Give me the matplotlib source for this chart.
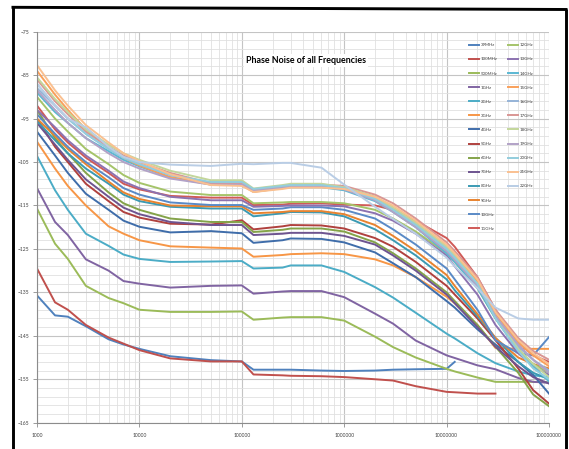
import numpy as np
import matplotlib
matplotlib.use("Agg")
import matplotlib.pyplot as plt
from matplotlib.lines import Line2D
from matplotlib.ticker import FixedLocator, FixedFormatter, NullFormatter

nan = np.nan
freq = [1e3, 1.5e3, 2e3, 3e3, 5e3, 7e3, 1e4, 2e4, 5e4, 1e5, 1.3e5, 2.5e5, 3e5,
        6e5, 1e6, 2e6, 3e6, 5e6, 1e7, 1.2e7, 2e7, 3e7, 5e7, 7e7, 1e8]

labels = ["39MHz", "100MHz", "500MHz", "1GHz", "2GHz", "3GHz", "4GHz", "5GHz", "6GHz",
          "7GHz", "8GHz", "9GHz", "10GHz", "11GHz", "12GHz", "13GHz", "14GHz", "15GHz",
          "16GHz", "17GHz", "18GHz", "19GHz", "20GHz", "21GHz", "22GHz"]

colors = ["#4F81BD", "#C0504D", "#9BBB59", "#8064A2", "#4BACC6", "#F79646",
          "#3F6DAA", "#B0413E", "#84A349", "#6E5490", "#3B9AB3", "#E8832F",
          "#5A8AC6", "#D05A57", "#A5C46A", "#8C72B0", "#5BB8D3", "#F9A05A",
          "#95B3D7", "#D99694", "#C3D69B", "#B2A2C7", "#93CDDD", "#FAC090", "#B9CDE5"]

pn_39M = [-135.7, -140.3, -140.6, -142.8, -145.8, -147.0, -148.0, -149.7, -150.6, -150.9, -152.8, -152.8, -152.8,
          -153.0, -153.1, -153.0, -152.8, -152.7, -152.6, -151.0, nan, nan, nan, nan, nan]
pn_100M = [-129.5, -137.3, -139.0, -142.5, -145.4, -146.8, -148.3, -150.2, -150.9, -150.9, -153.9, -154.1, -154.2,
           -154.3, -154.5, -155.0, -155.3, -156.6, -157.9, -158.0, -158.3, -158.3, nan, nan, nan]
pn_500M = [-115.7, -123.8, -127.3, -133.5, -136.3, -137.5, -139.0, -139.5, -139.5, -139.4, -141.3, -140.8, -140.7,
           -140.7, -141.5, -145.2, -147.6, -150.0, -152.6, -153.2, -154.6, -155.6, -155.6, -155.6, -155.7]
pn_1G = [-111.0, -118.8, -121.8, -127.4, -130.0, -132.4, -133.0, -133.9, -133.5, -133.4, -135.3, -134.8, -134.7,
         -134.7, -136.1, -139.9, -142.2, -146.1, -149.5, -150.1, -151.8, -152.7, -154.7, -155.6, -155.8]
pn_2G = [-103.6, -111.5, -116.0, -121.5, -124.3, -126.3, -127.3, -128.0, -127.9, -127.8, -129.5, -129.3, -128.8,
         -128.8, -130.3, -133.8, -136.2, -139.7, -144.5, -145.6, -149.0, -151.3, -153.2, -154.1, -154.5]
pn_3G = [-100.3, -106.5, -110.5, -115.0, -119.8, -121.5, -123.0, -124.4, -124.7, -124.9, -126.8, -126.4, -126.2,
         -126.0, -126.2, -127.4, -128.8, -131.5, -136.0, -137.5, -142.5, -147.8, -148.0, -148.0, -148.0]
pn_4G = [-98.0, -103.5, -107.5, -112.3, -116.0, -118.5, -119.9, -121.2, -120.9, -121.4, -123.6, -123.0, -122.6,
         -122.7, -123.5, -125.8, -128.3, -131.5, -137.0, -138.5, -143.5, -147.0, -151.0, -154.0, -158.3]
pn_5G = [-95.0, -101.5, -105.0, -110.0, -114.0, -116.5, -117.8, -119.2, -119.4, -118.4, -120.5, -119.8, -119.5,
         -119.6, -120.3, -122.5, -124.5, -128.0, -133.5, -135.5, -141.0, -146.0, -152.5, -157.5, -160.6]
pn_6G = [-93.0, -99.5, -103.0, -107.5, -112.0, -114.5, -116.0, -118.0, -118.8, -118.8, -121.1, -120.6, -120.3,
         -120.3, -121.0, -123.5, -126.0, -129.5, -135.0, -137.0, -142.5, -147.5, -153.5, -158.5, -161.2]
pn_7G = [-96.0, -101.0, -104.5, -109.0, -113.0, -115.5, -117.0, -118.8, -119.5, -119.5, -121.8, -121.5, -121.3,
         -121.3, -122.0, -124.0, -126.5, -130.0, -135.5, -137.5, -143.0, -147.5, -152.0, -154.5, -156.0]
pn_8G = [-95.5, -100.0, -103.0, -106.5, -110.0, -112.5, -114.0, -115.3, -115.7, -115.7, -117.5, -116.8, -116.5,
         -116.6, -117.5, -120.5, -123.0, -126.5, -132.0, -134.5, -140.5, -145.5, -151.0, -153.5, -155.0]
pn_9G = [-95.0, -99.0, -102.0, -105.5, -109.5, -112.0, -113.5, -115.0, -115.2, -115.2, -116.8, -116.5, -116.3,
         -116.3, -117.0, -119.5, -122.0, -125.5, -131.0, -133.5, -140.0, -145.5, -150.0, -151.5, -152.5]
pn_10G = [-94.0, -98.5, -101.5, -105.0, -108.5, -111.0, -112.5, -114.3, -114.9, -114.9, -116.0, -115.7, -115.4,
          -115.4, -116.0, -118.0, -120.5, -124.0, -129.5, -132.0, -139.0, -146.0, -149.0, -149.5, -145.3]
pn_11G = [-92.0, -97.5, -100.5, -104.0, -107.5, -110.0, -111.3, -112.8, -113.2, -113.2, -114.9, -114.8, -114.6,
          -114.5, -114.8, -115.0, -116.0, -118.5, -122.5, -124.5, -131.5, -139.0, -146.5, -149.5, -151.0]
pn_12G = [-90.0, -95.0, -98.0, -102.0, -105.5, -108.0, -109.8, -111.8, -112.6, -112.6, -114.5, -114.3, -114.2,
          -114.2, -114.5, -116.0, -118.0, -121.0, -126.0, -128.0, -134.0, -141.0, -148.0, -151.5, -153.5]
pn_13G = [-93.0, -97.0, -100.0, -103.5, -107.0, -109.5, -111.0, -113.0, -113.8, -113.8, -115.3, -115.1, -115.0,
          -115.0, -115.2, -116.8, -118.5, -121.5, -126.5, -129.0, -135.5, -142.5, -149.0, -152.0, -154.0]
pn_14G = [-89.0, -93.5, -96.0, -99.5, -102.5, -104.5, -106.0, -108.5, -110.0, -110.0, -111.8, -111.0, -110.8,
          -110.8, -111.5, -114.0, -116.5, -120.0, -126.0, -128.0, -134.0, -141.0, -148.5, -152.0, -155.5]
pn_15G = [-84.0, -89.5, -93.0, -97.5, -101.5, -104.0, -105.8, -108.5, -110.2, -110.3, -111.9, -111.0, -110.6,
          -110.6, -111.0, -113.0, -115.5, -119.0, -124.5, -126.5, -132.5, -140.0, -146.5, -149.5, -152.0]
pn_16G = [-88.0, -92.0, -95.0, -98.5, -102.0, -104.0, -105.5, -108.0, -109.8, -109.8, -111.5, -110.8, -110.5,
          -110.5, -111.0, -113.5, -116.0, -119.5, -125.0, -127.0, -133.0, -140.5, -147.5, -150.5, -153.0]
pn_17G = [-86.0, -91.0, -94.0, -98.0, -101.5, -103.5, -105.0, -107.5, -109.9, -109.9, -111.3, -110.5, -110.2,
          -110.2, -110.5, -112.5, -114.5, -118.0, -123.5, -125.5, -131.5, -139.0, -145.5, -148.5, -150.5]
pn_18G = [-85.5, -90.5, -93.5, -97.5, -101.0, -103.0, -104.5, -107.0, -109.2, -109.2, -111.1, -110.3, -110.0,
          -110.0, -110.8, -113.0, -115.5, -119.0, -124.5, -126.5, -133.0, -140.5, -148.0, -151.5, -154.5]
pn_19G = [-88.5, -93.0, -96.0, -99.5, -103.0, -105.0, -106.5, -108.8, -110.2, -110.2, -111.6, -111.0, -110.7,
          -110.7, -111.3, -113.8, -116.5, -120.0, -125.5, -127.5, -133.5, -140.5, -147.0, -150.5, -153.5]
pn_20G = [-87.0, -92.0, -95.0, -98.5, -102.0, -104.0, -105.5, -108.0, -109.6, -109.6, -111.2, -110.5, -110.3,
          -110.3, -111.0, -113.5, -116.0, -119.5, -125.0, -127.0, -133.0, -141.0, -148.5, -152.5, -155.0]
pn_21G = [-82.7, -88.5, -92.0, -96.5, -100.5, -103.0, -104.8, -107.8, -110.3, -110.5, -111.9, -111.2, -110.9,
          -110.9, -111.2, -113.0, -115.0, -118.5, -124.0, -126.0, -132.0, -139.5, -146.0, -149.0, -151.5]
pn_22G = [-87.0, -92.0, -95.0, -97.0, -101.5, -103.8, -105.0, -105.6, -105.9, -105.4, -105.5, -105.2, -105.2,
          -106.3, -110.2, -115.3, -118.1, -121.5, -127.0, -129.0, -134.0, -138.5, -141.0, -141.3, -141.3]

series = [pn_39M, pn_100M, pn_500M, pn_1G, pn_2G, pn_3G, pn_4G, pn_5G, pn_6G, pn_7G, pn_8G, pn_9G,
          pn_10G, pn_11G, pn_12G, pn_13G, pn_14G, pn_15G, pn_16G, pn_17G, pn_18G, pn_19G, pn_20G,
          pn_21G, pn_22G]

xticks = [1e3, 1e4, 1e5, 1e6, 1e7, 1e8]
xtick_labels = ["1000", "10000", "100000", "1000000", "10000000", "100000000"]
yticks = [-165, -155, -145, -135, -125, -115, -105, -95, -85, -75]
title = "Phase Noise of all Frequencies"

plt.rcParams["font.family"] = ["Lato", "DejaVu Sans"]

W, H = 569, 449
fig = plt.figure(figsize=(W / 100, H / 100), dpi=100)
fig.patch.set_facecolor("white")
ax = fig.add_axes([37 / W, (H - 422.7) / H, (549 - 37) / W, (422.7 - 31.7) / H])
ax.set_xscale("log")

lines = []
for vals, lab, col in zip(series, labels, colors):
    ln, = ax.plot(freq, vals, color=col, lw=1.4, label=lab, solid_joinstyle="round")
    lines.append(ln)

ax.set_xlim(1e3, 1e8)
ax.set_ylim(-165, -75)
ax.xaxis.set_major_locator(FixedLocator(xticks))
ax.xaxis.set_major_formatter(FixedFormatter(xtick_labels))
ax.xaxis.set_minor_formatter(NullFormatter())
ax.set_yticks(yticks)
ax.set_yticks(np.arange(-165, -74, 2), minor=True)
ax.grid(which="major", color="#c4c4c4", lw=0.8)
ax.grid(which="minor", color="#e0e0e0", lw=0.6)
ax.set_axisbelow(True)
for s in ["top", "right"]:
    ax.spines[s].set_visible(False)
for s in ["left", "bottom"]:
    ax.spines[s].set_color("#8c8c8c")
    ax.spines[s].set_linewidth(0.8)
ax.tick_params(which="major", length=3, width=0.6, color="#8c8c8c", labelsize=3.6,
               labelcolor="#404040", pad=2.5)
ax.tick_params(axis="x", which="major", pad=4.5)
ax.tick_params(which="minor", length=0)

fig.text(306 / W, 1 - 60.7 / H, title, ha="center", va="center", fontsize=6.4,
         fontweight="bold", color="black",
         bbox=dict(facecolor="white", edgecolor="none", pad=1.5))

leg_kw = dict(frameon=False, fontsize=3.2, handlelength=2.2, handletextpad=0.45,
              labelspacing=2.25, borderpad=0, borderaxespad=0, loc="upper left",
              bbox_transform=fig.transFigure)
leg1 = ax.legend(lines[:14], labels[:14], bbox_to_anchor=(469 / W, 1 - 43.2 / H), **leg_kw)
ax.add_artist(leg1)
leg2 = ax.legend(lines[14:], labels[14:], bbox_to_anchor=(508 / W, 1 - 43.2 / H), **leg_kw)
for lg in (leg1, leg2):
    for t in lg.get_texts():
        t.set_color("#404040")

# outer black frame
fig.add_artist(Line2D([12.5 / W, 12.5 / W], [0, 1 - 6.5 / H], transform=fig.transFigure,
                      color="black", lw=2.1, solid_capstyle="butt"))
fig.add_artist(Line2D([11.5 / W, 567.5 / W], [1 - 7.3 / H, 1 - 9.5 / H], transform=fig.transFigure,
                      color="black", lw=2.1, solid_capstyle="butt"))
fig.add_artist(Line2D([566.3 / W, 566.3 / W], [0, 1 - 8.5 / H], transform=fig.transFigure,
                      color="black", lw=2.1, solid_capstyle="butt"))

fig.savefig("out.png", dpi=100, facecolor="white")
